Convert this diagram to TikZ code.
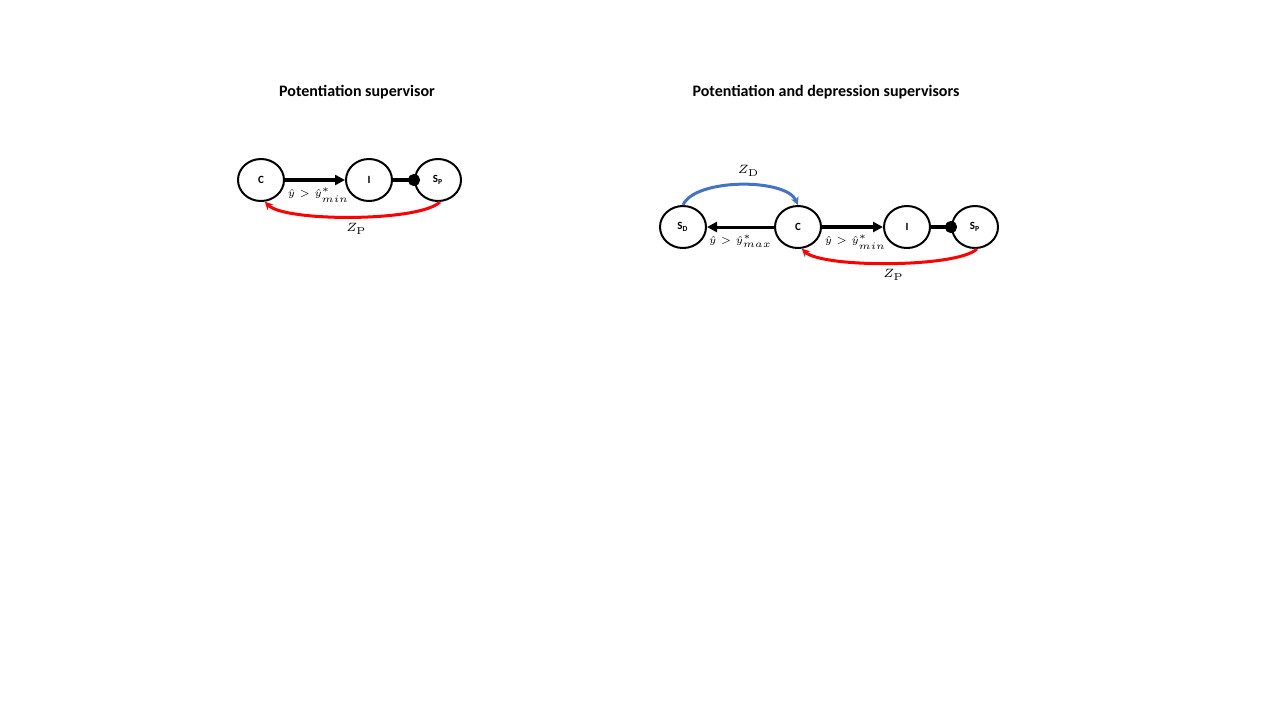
\documentclass[tikz,border=0pt]{standalone}
\usepackage[no-math]{fontspec}
\setmainfont{Carlito}
\usetikzlibrary{arrows.meta,positioning,shapes.geometric}
\definecolor{supRed}{RGB}{255,0,0}
\definecolor{supBlue}{RGB}{68,114,196}

\begin{document}
\begin{tikzpicture}[x=0.5pt,y=0.5pt,
    state/.style={ellipse,draw,line width=1pt,minimum width=23pt,minimum height=21pt,inner sep=0pt,font=\bfseries\fontsize{5.5}{6}\selectfont},
    title/.style={font=\bfseries\fontsize{8}{9}\selectfont},
    cond/.style={font=\fontsize{6}{7}\selectfont,inner sep=0.5pt},
    ineq/.style={font=\fontsize{5.3}{6}\selectfont,inner sep=0.3pt,pos=0,yshift=-2.8pt},
    excite/.style={line width=2pt,-{Triangle[length=5pt,width=5pt]}},
    inhib/.style={line width=2pt,-{Circle[length=6pt]},shorten >=-3pt},
    feedback/.style={line width=1.5pt,-{Stealth[length=4pt,width=4pt]}}]
  \useasboundingbox (0,0) rectangle (1280,-720);

  % left: potentiation only
  \node[title] (t1) at (357,-92) {Potentiation supervisor};
  \node[state] (C1) at (261,-180) {C};
  \node[state] (I1) at (369,-180) {I};
  \node[state] (SP1) at (438,-180) {S\textsubscript{P}};
  \draw[excite] (C1) -- node[ineq,anchor=north west] (m1) {$\hat{y}>\hat{y}^*_{min}$} (I1);
  \draw[inhib] (I1) -- (SP1);
  \draw[feedback,supRed] (SP1.-85) .. controls (420,-222) and (285,-222) .. (C1.-80)
    node[cond,pos=0.5,below=2pt,text=black,xshift=2pt] (z1) {$Z_{\mathrm{P}}$};

  % right: potentiation and depression
  \node[title] (t2) at (826,-92) {Potentiation and depression supervisors};
  \node[state] (SD2) at (683,-227) {S\textsubscript{D}};
  \node[state] (C2) at (798,-227) {C};
  \node[state] (I2) at (907,-227) {I};
  \node[state] (SP2) at (975,-227) {S\textsubscript{P}};
  \draw[excite,line width=1.5pt] (C2) -- node[ineq,anchor=north east] (m2) {$\hat{y}>\hat{y}^*_{max}$} (SD2);
  \draw[excite] (C2) -- node[ineq,anchor=north west] (m3) {$\hat{y}>\hat{y}^*_{min}$} (I2);
  \draw[inhib] (I2) -- (SP2);
  \draw[feedback,supBlue] (SD2.north) .. controls (695,-178) and (786,-178) .. (C2.north)
    node[cond,pos=0.5,above=3pt,text=black,xshift=4pt] (z2) {$Z_{\mathrm{D}}$};
  \draw[feedback,supRed] (SP2.-85) .. controls (957,-268) and (822,-268) .. (C2.-80)
    node[cond,pos=0.5,below=2pt,text=black,xshift=2pt] (z3) {$Z_{\mathrm{P}}$};
\end{tikzpicture}
\end{document}
